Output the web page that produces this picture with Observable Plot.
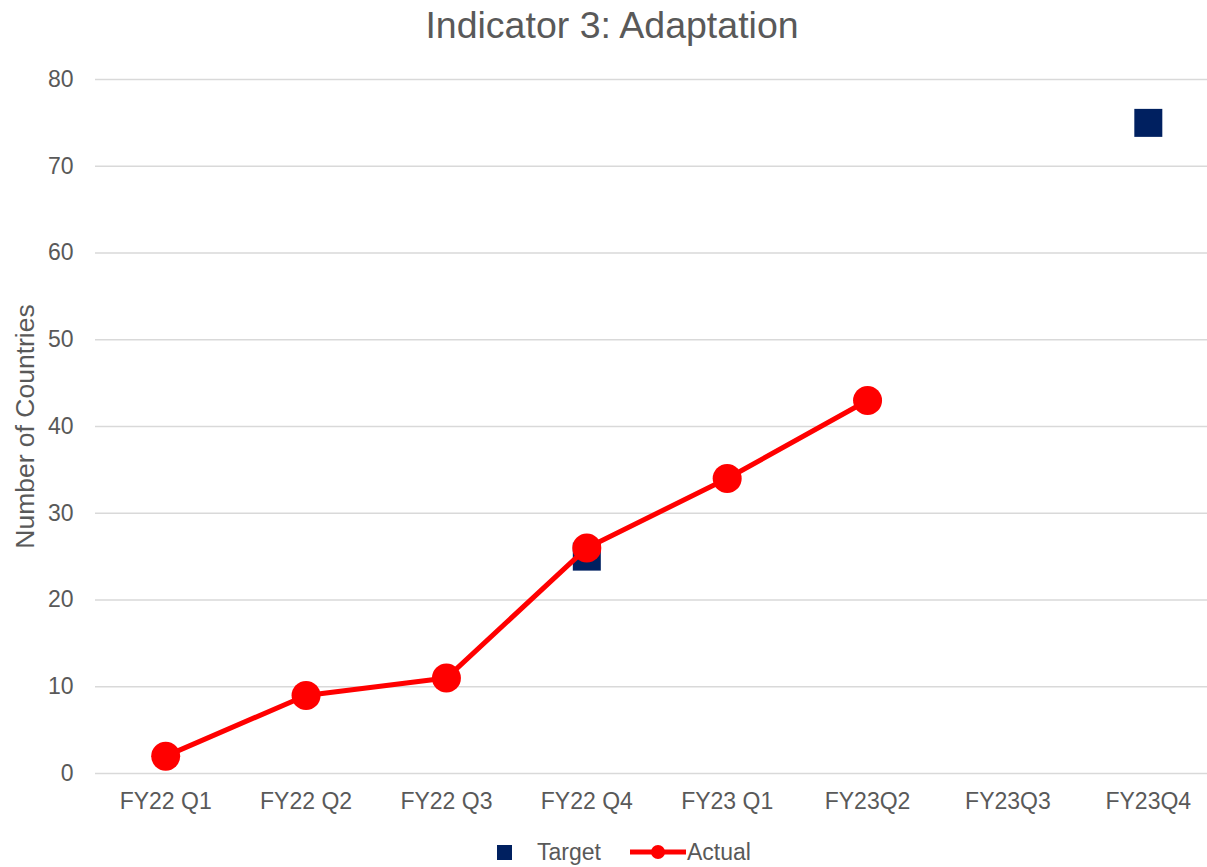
<!DOCTYPE html>
<html><head><meta charset="utf-8">
<script src="https://cdn.jsdelivr.net/npm/d3@7"></script>
<script src="https://cdn.jsdelivr.net/npm/@observablehq/plot@0.6"></script>
<style>
body{margin:0;background:#fff;font-family:"Liberation Sans",Arial,sans-serif;color:#595959;width:1207px;height:867px;overflow:hidden;position:relative}
#title{height:50px;line-height:50px;text-align:center;font-size:37.5px;padding-left:17px;box-sizing:border-box;width:1207px}
#chart{height:787px}
#legend{position:absolute;top:837px;left:0;width:1207px;height:30px;font-size:23px}
#legend .sq{position:absolute;left:497px;top:8px;width:15px;height:15px;background:#002060}
#legend .t1{position:absolute;left:537px;top:0;line-height:30px}
#legend svg{position:absolute;left:630px;top:5px}
#legend .t2{position:absolute;left:687px;top:0;line-height:30px}
</style></head><body>
<div id="title">Indicator 3: Adaptation</div>
<div id="chart"></div>
<div id="legend"><span class="sq"></span><span class="t1">Target</span>
<svg width="56" height="20"><line x1="0" y1="10" x2="56" y2="10" stroke="#ff0000" stroke-width="5"/><circle cx="28" cy="10" r="7" fill="#ff0000"/></svg><span class="t2">Actual</span></div>
<script>
const quarters = ["FY22 Q1","FY22 Q2","FY22 Q3","FY22 Q4","FY23 Q1","FY23Q2","FY23Q3","FY23Q4"];
const actualValues = [2, 9, 11, 26, 34, 43, null, null];
const targetValues = [null, null, null, 25, null, null, null, 75];
const yTicks = [0,10,20,30,40,50,60,70,80];
const yLabel = "Number of Countries";

const actual = quarters.map((q,i)=>({q, v: actualValues[i]})).filter(d=>d.v!=null);
const target = quarters.map((q,i)=>({q, v: targetValues[i]})).filter(d=>d.v!=null);

const chart = Plot.plot({
  width: 1207,
  height: 787,
  marginLeft: 95,
  marginRight: 0,
  marginTop: 29,
  marginBottom: 64,
  style: {fontSize: "23px", fontFamily: '"Liberation Sans", Arial, sans-serif', color: "#595959", background: "white"},
  x: {type: "point", domain: quarters, range: [95, 1218], padding: 0.5, round: false},
  y: {domain: [0, 80], label: yLabel},
  marks: [
    Plot.gridY(yTicks, {stroke: "#d9d9d9", strokeOpacity: 1, strokeWidth: 1.6}),
    Plot.axisY(yTicks, {tickSize: 0, tickPadding: 22, label: null}),
    Plot.text([yLabel], {frameAnchor: "left", rotate: -90, dx: -70, fontSize: 26.5, fill: "#595959", lineAnchor: "middle", textAnchor: "middle"}),
    Plot.axisX({tickSize: 0, tickPadding: 19, label: null}),
    Plot.dot(target, {x: "q", y: "v", symbol: "square", r: 15.8, fill: "#002060", stroke: "none"}),
    Plot.line(actual, {x: "q", y: "v", stroke: "#ff0000", strokeWidth: 5}),
    Plot.dot(actual, {x: "q", y: "v", r: 14.5, fill: "#ff0000", stroke: "none"})
  ]
});
document.getElementById("chart").appendChild(chart);
</script>
</body></html>
